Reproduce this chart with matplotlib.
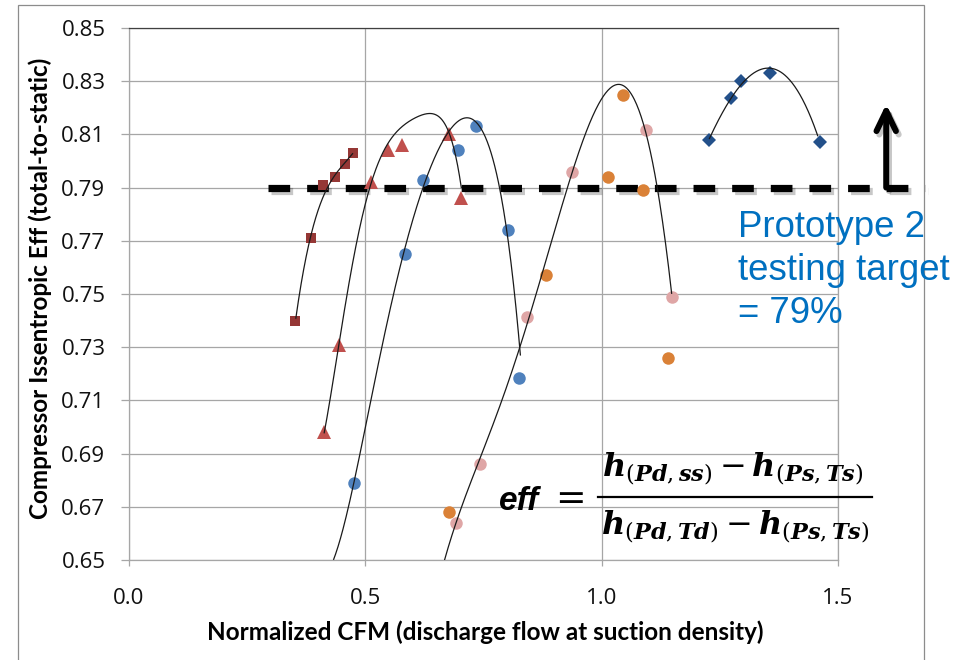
import numpy as np
import matplotlib
matplotlib.use("Agg")
import matplotlib.pyplot as plt
import matplotlib.patheffects as pe
from matplotlib.patches import Rectangle
from matplotlib.lines import Line2D

# ---------------- data ----------------
sq_x = [0.352, 0.386, 0.411, 0.436, 0.457, 0.473]
sq_y = [0.740, 0.771, 0.791, 0.794, 0.799, 0.803]

tri_x = [0.413, 0.445, 0.512, 0.547, 0.578, 0.677, 0.703]
tri_y = [0.698, 0.731, 0.792, 0.804, 0.806, 0.810, 0.786]

blue_x = [0.475, 0.583, 0.622, 0.697, 0.735, 0.802, 0.826]
blue_y = [0.679, 0.765, 0.793, 0.804, 0.813, 0.774, 0.7185]

orange_x = [0.678, 0.882, 1.013, 1.046, 1.088, 1.141]
orange_y = [0.668, 0.757, 0.794, 0.825, 0.789, 0.726]

pink_x = [0.692, 0.742, 0.843, 0.937, 1.093, 1.148]
pink_y = [0.664, 0.686, 0.7415, 0.796, 0.8115, 0.749]

dia_x = [1.228, 1.273, 1.295, 1.357, 1.462]
dia_y = [0.808, 0.8235, 0.830, 0.833, 0.807]

# hand-drawn trend curves (points sampled along each drawn curve)
curve_sq_x = [0.353, 0.362, 0.373, 0.386, 0.401, 0.415, 0.436, 0.458, 0.473]
curve_sq_y = [0.740, 0.753, 0.763, 0.771, 0.782, 0.789, 0.795, 0.799, 0.803]

curve_tri_x = [0.413, 0.443, 0.463, 0.482, 0.505, 0.547, 0.574, 0.595, 0.624, 0.655, 0.677, 0.694, 0.703]
curve_tri_y = [0.698, 0.730, 0.750, 0.770, 0.790, 0.804, 0.811, 0.817, 0.8185, 0.816, 0.810, 0.800, 0.790]

curve_blue_x = [0.433, 0.475, 0.511, 0.542, 0.583, 0.622, 0.652, 0.680, 0.712, 0.744, 0.772, 0.797, 0.814, 0.825, 0.828]
curve_blue_y = [0.650, 0.679, 0.710, 0.735, 0.765, 0.792, 0.804, 0.812, 0.8154, 0.812, 0.798, 0.778, 0.754, 0.734, 0.725]

curve_pink_x = [0.667, 0.692, 0.742, 0.786, 0.825, 0.843, 0.882, 0.920, 0.937, 0.970, 1.005, 1.037, 1.069, 1.093, 1.118, 1.132, 1.148]
curve_pink_y = [0.650, 0.664, 0.686, 0.710, 0.730, 0.7415, 0.759, 0.784, 0.796, 0.813, 0.8255, 0.8286, 0.824, 0.8115, 0.788, 0.7716, 0.752]

curve_dia_x = [1.228, 1.253, 1.295, 1.343, 1.396, 1.432, 1.457]
curve_dia_y = [0.808, 0.818, 0.829, 0.8338, 0.831, 0.8214, 0.809]

target_eff = 0.79
y_ticks = [0.65, 0.67, 0.69, 0.71, 0.73, 0.75, 0.77, 0.79, 0.81, 0.83, 0.85]
x_ticks = [0.0, 0.5, 1.0, 1.5]
x_labels = ["0.0", "0.5", "1.0", "1.5"]

# ---------------- figure ----------------
W, H = 955, 660
fig = plt.figure(figsize=(W / 100, H / 100), dpi=100)
fig.patch.set_facecolor("white")


def fx(px):
    return px / W


def fy(py):
    return 1 - py / H


ax = fig.add_axes([fx(129), fy(560), fx(838) - fx(129), fy(28) - fy(560)])
ax.set_xlim(0, 1.5)
ax.set_ylim(0.65, 0.85)

grid_c = "#A6A6A6"
ax.set_yticks(y_ticks)
ax.set_yticklabels([f"{v:.2f}" for v in y_ticks])
ax.set_xticks(x_ticks)
ax.set_xticklabels(x_labels)
ax.grid(True, color=grid_c, lw=0.9, zorder=0)
ax.set_axisbelow(True)
for s in ["left", "bottom", "right"]:
    ax.spines[s].set_color(grid_c)
    ax.spines[s].set_linewidth(0.9)
ax.spines["top"].set_color("#404040")
ax.spines["top"].set_linewidth(0.9)
ax.tick_params(axis="y", direction="out", length=6, width=0.9, color=grid_c,
               pad=11, labelsize=16)
ax.tick_params(axis="x", direction="out", length=4, width=0.9, color=grid_c,
               pad=16, labelsize=16)
for lab in ax.get_xticklabels() + ax.get_yticklabels():
    lab.set_fontfamily(["Open Sans", "DejaVu Sans"])
    lab.set_color("#111111")

# markers
ax.plot(sq_x, sq_y, ls="none", marker="s", ms=7, color="#953735", mew=0, zorder=3)
ax.plot(tri_x, tri_y, ls="none", marker="^", ms=10, color="#C0504D", mew=0, zorder=3)
ax.plot(blue_x, blue_y, ls="none", marker="o", ms=9, color="#4F81BD", mew=0, zorder=3)
ax.plot(orange_x, orange_y, ls="none", marker="o", ms=9, color="#DA8137", mew=0, zorder=3)
ax.plot(pink_x, pink_y, ls="none", marker="o", ms=9, color="#DFA6A6", mew=0, zorder=3)
ax.plot(dia_x, dia_y, ls="none", marker="D", ms=7, color="#23508A", mew=0, zorder=3)

# smooth trend curves through the sampled curve points
for cx, cy, deg in [(curve_sq_x, curve_sq_y, 3),
                    (curve_tri_x, curve_tri_y, 5),
                    (curve_blue_x, curve_blue_y, 5),
                    (curve_pink_x, curve_pink_y, 5),
                    (curve_dia_x, curve_dia_y, 3)]:
    coef = np.polyfit(cx, cy, deg)
    xs = np.linspace(min(cx), max(cx), 300)
    ax.plot(xs, np.polyval(coef, xs), color="#1A1A1A", lw=0.9, zorder=4)

# target dashed line with shadow
shadow = [pe.SimpleLineShadow(offset=(2, -2.5), shadow_color="black", alpha=0.22),
          pe.Normal()]
ln, = ax.plot([0.2945, 1.684], [target_eff, target_eff], color="black", lw=5.2,
              clip_on=False, zorder=2, solid_capstyle="butt",
              dash_capstyle="butt", path_effects=shadow)
ln.set_dashes([3.0, 2.35])

ax.annotate("", xy=(1.602, 0.8214), xytext=(1.602, target_eff),
            arrowprops=dict(arrowstyle="->,head_length=1.45,head_width=0.7",
                            lw=4.3, color="black", shrinkA=0, shrinkB=0,
                            path_effects=shadow),
            annotation_clip=False, zorder=5)

# target text
blue_txt = "#0070C0"
for line, base in [("Prototype 2", 236.7), ("testing target", 280.0), ("= 79%", 323.3)]:
    fig.text(fx(738), fy(base), line, color=blue_txt, fontsize=26.4,
             family=["Liberation Sans", "DejaVu Sans"], va="baseline", ha="left")

# formula
fig.text(fx(499), fy(510), "eff", fontsize=24, fontweight="bold", fontstyle="italic",
         family=["Liberation Sans", "DejaVu Sans"], va="baseline", ha="left")
fig.text(fx(552), fy(506), r"$=$", fontsize=28, math_fontfamily="stix",
         va="baseline", ha="left")
num = r"$\mathbfit{h}_{(\mathbfit{Pd},\mathbfit{ss})}-\mathbfit{h}_{(\mathbfit{Ps},\mathbfit{Ts})}$"
den = r"$\mathbfit{h}_{(\mathbfit{Pd},\mathbfit{Td})}-\mathbfit{h}_{(\mathbfit{Ps},\mathbfit{Ts})}$"
fig.text(fx(602), fy(476), num, fontsize=23, math_fontfamily="dejavuserif", va="baseline", ha="left")
fig.text(fx(601), fy(534), den, fontsize=23, math_fontfamily="dejavuserif", va="baseline", ha="left")
fig.add_artist(Line2D([fx(598), fx(872)], [fy(496.7), fy(496.7)], transform=fig.transFigure,
                      color="black", lw=1.6))

# axis titles
lab_font = ["Lato", "DejaVu Sans"]
fig.text(fx(485), fy(640), "Normalized CFM (discharge flow at suction density)",
         fontsize=17.5, fontweight="bold", family=lab_font, ha="center", va="baseline")
fig.text(fx(40), fy(288), "Compressor Issentropic Eff (total-to-static)",
         fontsize=17.5, fontweight="bold", family=lab_font, ha="center", va="center",
         rotation=90)

# chart border
fig.add_artist(Rectangle((fx(18), -0.05), fx(924) - fx(18), fy(5) + 0.05,
                         transform=fig.transFigure, fill=False,
                         edgecolor="#8C8C8C", lw=0.9))

fig.savefig("out.png", dpi=100)
